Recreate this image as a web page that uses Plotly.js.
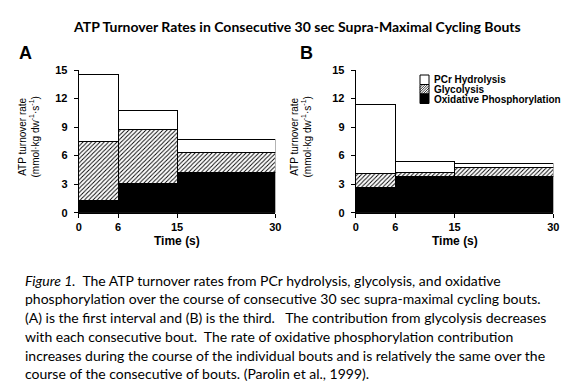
<!DOCTYPE html>
<html>
<head>
<meta charset="utf-8">
<script src="https://cdn.plot.ly/plotly-3.0.1.min.js"></script>
<style>
  html, body { margin: 0; padding: 0; background: #fff; }
  #chart { width: 573px; height: 387px; }
</style>
</head>
<body>
<div id="chart"></div>
<script>
// ---- data ----
const intervalEdges = [0, 6, 15, 30];          // seconds
const timeTicks = [0, 6, 15, 30];
const rateTicks = [0, 3, 6, 9, 12, 15];
const seriesNames = ['Oxidative Phosphorylation', 'Glycolysis', 'PCr Hydrolysis'];

// Panel A: first bout (mmol/kg dw/s)
const boutA_oxidative  = [1.25, 3.05, 4.20];
const boutA_glycolysis = [6.20, 5.70, 2.10];
const boutA_pcr        = [7.05, 2.00, 1.40];

// Panel B: third bout
const boutB_oxidative  = [2.63, 3.79, 3.79];
const boutB_glycolysis = [1.47, 0.39, 1.00];
const boutB_pcr        = [7.30, 1.19, 0.36];

const captionLines = [
  '<i>Figure 1.</i>  The ATP turnover rates from PCr hydrolysis, glycolysis, and oxidative',
  'phosphorylation over the course of consecutive 30 sec supra-maximal cycling bouts.',
  '(A) is the first interval and (B) is the third.   The contribution from glycolysis decreases',
  'with each consecutive bout.  The rate of oxidative phosphorylation contribution',
  'increases during the course of the individual bouts and is relatively the same over the',
  'course of the consecutive of bouts. (Parolin et al., 1999).'
];

// ---- helpers ----
const W = 573, H = 387;
const px = v => v / W;
const py = v => 1 - v / H;
const mids = intervalEdges.slice(0, -1).map((e, i) => (e + intervalEdges[i + 1]) / 2);
const widths = intervalEdges.slice(0, -1).map((e, i) => intervalEdges[i + 1] - e);

const outline = { color: '#000', width: 1 };
function panelTraces(ox, gly, pcr, xa, ya) {
  return [
    { type: 'bar', x: mids, y: ox, width: widths, xaxis: xa, yaxis: ya, name: seriesNames[0],
      marker: { color: '#000', line: outline }, showlegend: false, hoverinfo: 'skip' },
    { type: 'bar', x: mids, y: gly, width: widths, xaxis: xa, yaxis: ya, name: seriesNames[1],
      marker: { color: '#fff', line: outline,
        pattern: { shape: '/', fgcolor: '#000', bgcolor: '#fff', size: 3, solidity: 0.3 } },
      showlegend: false, hoverinfo: 'skip' },
    { type: 'bar', x: mids, y: pcr, width: widths, xaxis: xa, yaxis: ya, name: seriesNames[2],
      marker: { color: '#fff', line: outline }, showlegend: false, hoverinfo: 'skip' }
  ];
}

const data = [
  ...panelTraces(boutA_oxidative, boutA_glycolysis, boutA_pcr, 'x', 'y'),
  ...panelTraces(boutB_oxidative, boutB_glycolysis, boutB_pcr, 'x2', 'y2')
];

const tickFont = { family: 'Liberation Sans, Arial, sans-serif', size: 11, color: '#000', weight: 'bold' };
function xAxis(domain, anchor) {
  return { domain, anchor, range: [0, 30], tickvals: timeTicks, ticktext: timeTicks.map(String),
    showline: true, linecolor: '#000', linewidth: 1, ticks: 'outside', ticklen: 4, tickcolor: '#000',
    showgrid: false, zeroline: false, tickfont: tickFont, fixedrange: true };
}
function yAxis(domain, anchor) {
  return { domain, anchor, range: [0, 15], tickvals: rateTicks, showline: true, linecolor: '#000',
    linewidth: 1, ticks: 'outside', ticklen: 4, tickcolor: '#000', showgrid: false, zeroline: false,
    tickfont: tickFont, ticklabelstandoff: 4, fixedrange: true };
}

const yDomain = [1 - 212.7 / H, 1 - 70 / H];

const ann = [];
const base = { showarrow: false, xref: 'paper', yref: 'paper' };
ann.push({ ...base, x: px(70.5), y: py(26), xanchor: 'left', yanchor: 'middle',
  text: '<b>ATP Turnover Rates in Consecutive 30 sec Supra-Maximal Cycling Bouts</b>',
  font: { family: 'Lato, sans-serif', size: 14, color: '#000' } });
ann.push({ ...base, x: px(16.5), y: py(53.5), xanchor: 'left', yanchor: 'middle', text: '<b>A</b>',
  font: { family: 'Liberation Sans, Arial, sans-serif', size: 18, color: '#000' } });
ann.push({ ...base, x: px(297.5), y: py(53.5), xanchor: 'left', yanchor: 'middle', text: '<b>B</b>',
  font: { family: 'Liberation Sans, Arial, sans-serif', size: 18, color: '#000' } });

const yTitle = 'ATP turnover rate<br>(mmol·kg dw<sup>-1</sup>·s<sup>-1</sup>)';
[[28.5, 137], [300.5, 137]].forEach(([cx, cy]) => {
  ann.push({ ...base, x: px(cx), y: py(cy), xanchor: 'center', yanchor: 'middle', textangle: -90,
    text: yTitle, font: { family: 'Liberation Sans, Arial, sans-serif', size: 10, color: '#000' } });
});
[177, 454.5].forEach(cx => {
  ann.push({ ...base, x: px(cx), y: py(241), xanchor: 'center', yanchor: 'middle', text: '<b>Time (s)</b>',
    font: { family: 'Liberation Sans, Arial, sans-serif', size: 12, color: '#000' } });
});

// legend (panel B)
const legX0 = 420, legX1 = 429, legY = [75, 84.5, 94, 103.5];
const legTextY = [79.3, 89.3, 99.3];
const legendNames = [seriesNames[2], seriesNames[1], seriesNames[0]];
const shapes = [];
shapes.push({ type: 'rect', xref: 'paper', yref: 'paper', x0: px(legX0), x1: px(legX1), y0: py(legY[0]), y1: py(legY[1]),
  fillcolor: '#fff', line: { color: '#000', width: 1 } });
// hatch lines for glycolysis box
let hp = '';
for (let k = -9; k < 9; k += 2.4) {
  let xa = legX0 + k, ya = legY[2], xb = legX0 + k + 9.5, yb = legY[1];
  if (xa < legX0) { ya -= (legX0 - xa); xa = legX0; }
  if (xb > legX1) { yb += (xb - legX1); xb = legX1; }
  if (xb <= xa) continue;
  hp += `M${px(xa)},${py(ya)} L${px(xb)},${py(yb)} `;
}
shapes.push({ type: 'path', xref: 'paper', yref: 'paper', path: hp, line: { color: '#000', width: 0.8 } });
shapes.push({ type: 'rect', xref: 'paper', yref: 'paper', x0: px(legX0), x1: px(legX1), y0: py(legY[1]), y1: py(legY[2]),
  line: { color: '#000', width: 1 } });
shapes.push({ type: 'rect', xref: 'paper', yref: 'paper', x0: px(legX0), x1: px(legX1), y0: py(legY[2]), y1: py(legY[3]),
  fillcolor: '#000', line: { color: '#000', width: 1 } });
legendNames.forEach((n, i) => {
  ann.push({ ...base, x: px(431.5), y: py(legTextY[i]), xanchor: 'left', yanchor: 'middle',
    text: '<b>' + n + '</b>', font: { family: 'Liberation Sans, Arial, sans-serif', size: 10, color: '#000' } });
});

// caption
const capY = [280, 298, 317, 336, 355, 373.5];
captionLines.forEach((t, i) => {
  ann.push({ ...base, x: px(22.5), y: py(capY[i]), xanchor: 'left', yanchor: 'middle', text: t,
    font: { family: 'Lato, sans-serif', size: 14, color: '#000' } });
});

const layout = {
  width: W, height: H, margin: { l: 0, r: 0, t: 0, b: 0 },
  paper_bgcolor: '#fff', plot_bgcolor: '#fff', barmode: 'stack', bargap: 0, showlegend: false,
  xaxis: xAxis([78.7 / W, 275.3 / W], 'y'),
  yaxis: yAxis(yDomain, 'x'),
  xaxis2: xAxis([355.7 / W, 553.3 / W], 'y2'),
  yaxis2: yAxis(yDomain, 'x2'),
  annotations: ann, shapes
};

Plotly.newPlot('chart', data, layout, { staticPlot: true, displayModeBar: false });
</script>
</body>
</html>
